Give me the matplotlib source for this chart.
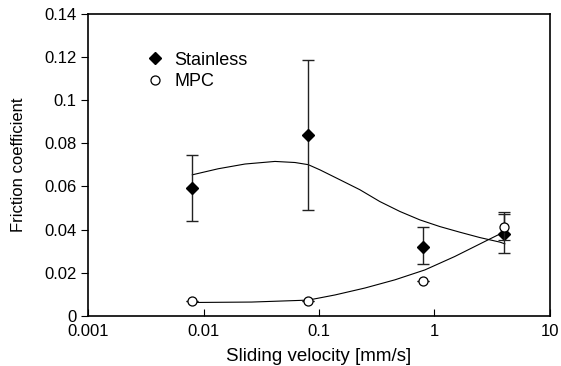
import numpy as np
import matplotlib.pyplot as plt
from matplotlib.lines import Line2D

plt.rcParams['font.family'] = ['Liberation Sans', 'DejaVu Sans']

# measured points
velocity = [0.008, 0.08, 0.8, 4.0]
stainless = [0.0595, 0.084, 0.032, 0.038]
stainless_lo = [0.044, 0.049, 0.024, 0.029]
stainless_hi = [0.0745, 0.1185, 0.041, 0.047]
mpc = [0.007, 0.007, 0.016, 0.041]
mpc_lo = [0.007, 0.007, 0.016, 0.035]
mpc_hi = [0.007, 0.007, 0.016, 0.048]

# fitted curves
fit_st_x = [0.008, 0.0134, 0.0229, 0.0416, 0.062, 0.0808, 0.102, 0.152, 0.226,
            0.337, 0.503, 0.749, 1.116, 1.66, 2.48, 3.69, 4.08]
fit_st_y = [0.0654, 0.0682, 0.0704, 0.0716, 0.0711, 0.0701, 0.0677, 0.0631, 0.0585,
            0.0530, 0.0484, 0.0445, 0.0414, 0.0388, 0.0363, 0.0342, 0.0334]
fit_mpc_x = [0.0082, 0.0261, 0.0808, 0.138, 0.250, 0.455, 0.828, 1.50, 2.74, 4.08]
fit_mpc_y = [0.0062, 0.0064, 0.0073, 0.0097, 0.0129, 0.0167, 0.0213, 0.0275, 0.0345, 0.0391]

fig = plt.figure(figsize=(5.61, 3.66), dpi=100)
ax = fig.add_axes([0.157, 0.137, 0.823, 0.825])

ax.plot(fit_st_x, fit_st_y, color='black', lw=0.8)
ax.plot(fit_mpc_x, fit_mpc_y, color='black', lw=0.8)

st = np.array(stainless)
ax.errorbar(velocity, stainless,
            yerr=[st - np.array(stainless_lo), np.array(stainless_hi) - st],
            fmt='D', color='black', ms=6.5, ecolor='#222222', elinewidth=1,
            capsize=4, capthick=1, zorder=3)
mp = np.array(mpc)
ax.errorbar(velocity, mpc,
            yerr=[mp - np.array(mpc_lo), np.array(mpc_hi) - mp],
            fmt='o', mfc='white', mec='black', ms=6.5, mew=0.9,
            ecolor='#222222', elinewidth=1, capsize=4, capthick=1, zorder=4)

ax.set_xscale('log')
ax.set_xlim(0.001, 10)
ax.set_ylim(0, 0.14)
ax.set_xticks([0.001, 0.01, 0.1, 1, 10])
ax.set_xticklabels(['0.001', '0.01', '0.1', '1', '10'])
ax.set_yticks([0, 0.02, 0.04, 0.06, 0.08, 0.1, 0.12, 0.14])
ax.set_yticklabels(['0', '0.02', '0.04', '0.06', '0.08', '0.1', '0.12', '0.14'])
ax.minorticks_off()
ax.tick_params(axis='x', direction='in', length=5, labelsize=12, pad=6)
ax.tick_params(axis='y', direction='out', length=5, labelsize=12)
for s in ax.spines.values():
    s.set_linewidth(1.2)

ax.set_xlabel('Sliding velocity [mm/s]', fontsize=13.5, labelpad=6)
ax.set_ylabel('Friction coefficient', fontsize=12, labelpad=13)

handles = [Line2D([], [], ls='none', marker='D', color='black', ms=6.5),
           Line2D([], [], ls='none', marker='o', mfc='white', mec='black',
                  ms=6.5, mew=0.9)]
ax.legend(handles, ['Stainless', 'MPC'], loc='upper left',
          bbox_to_anchor=(0.126, 0.875), frameon=False,
          fontsize=13, handletextpad=0.55, labelspacing=0.25,
          handlelength=1.0, borderaxespad=0, borderpad=0)

fig.savefig('out.png', dpi=100)
plt.close()
